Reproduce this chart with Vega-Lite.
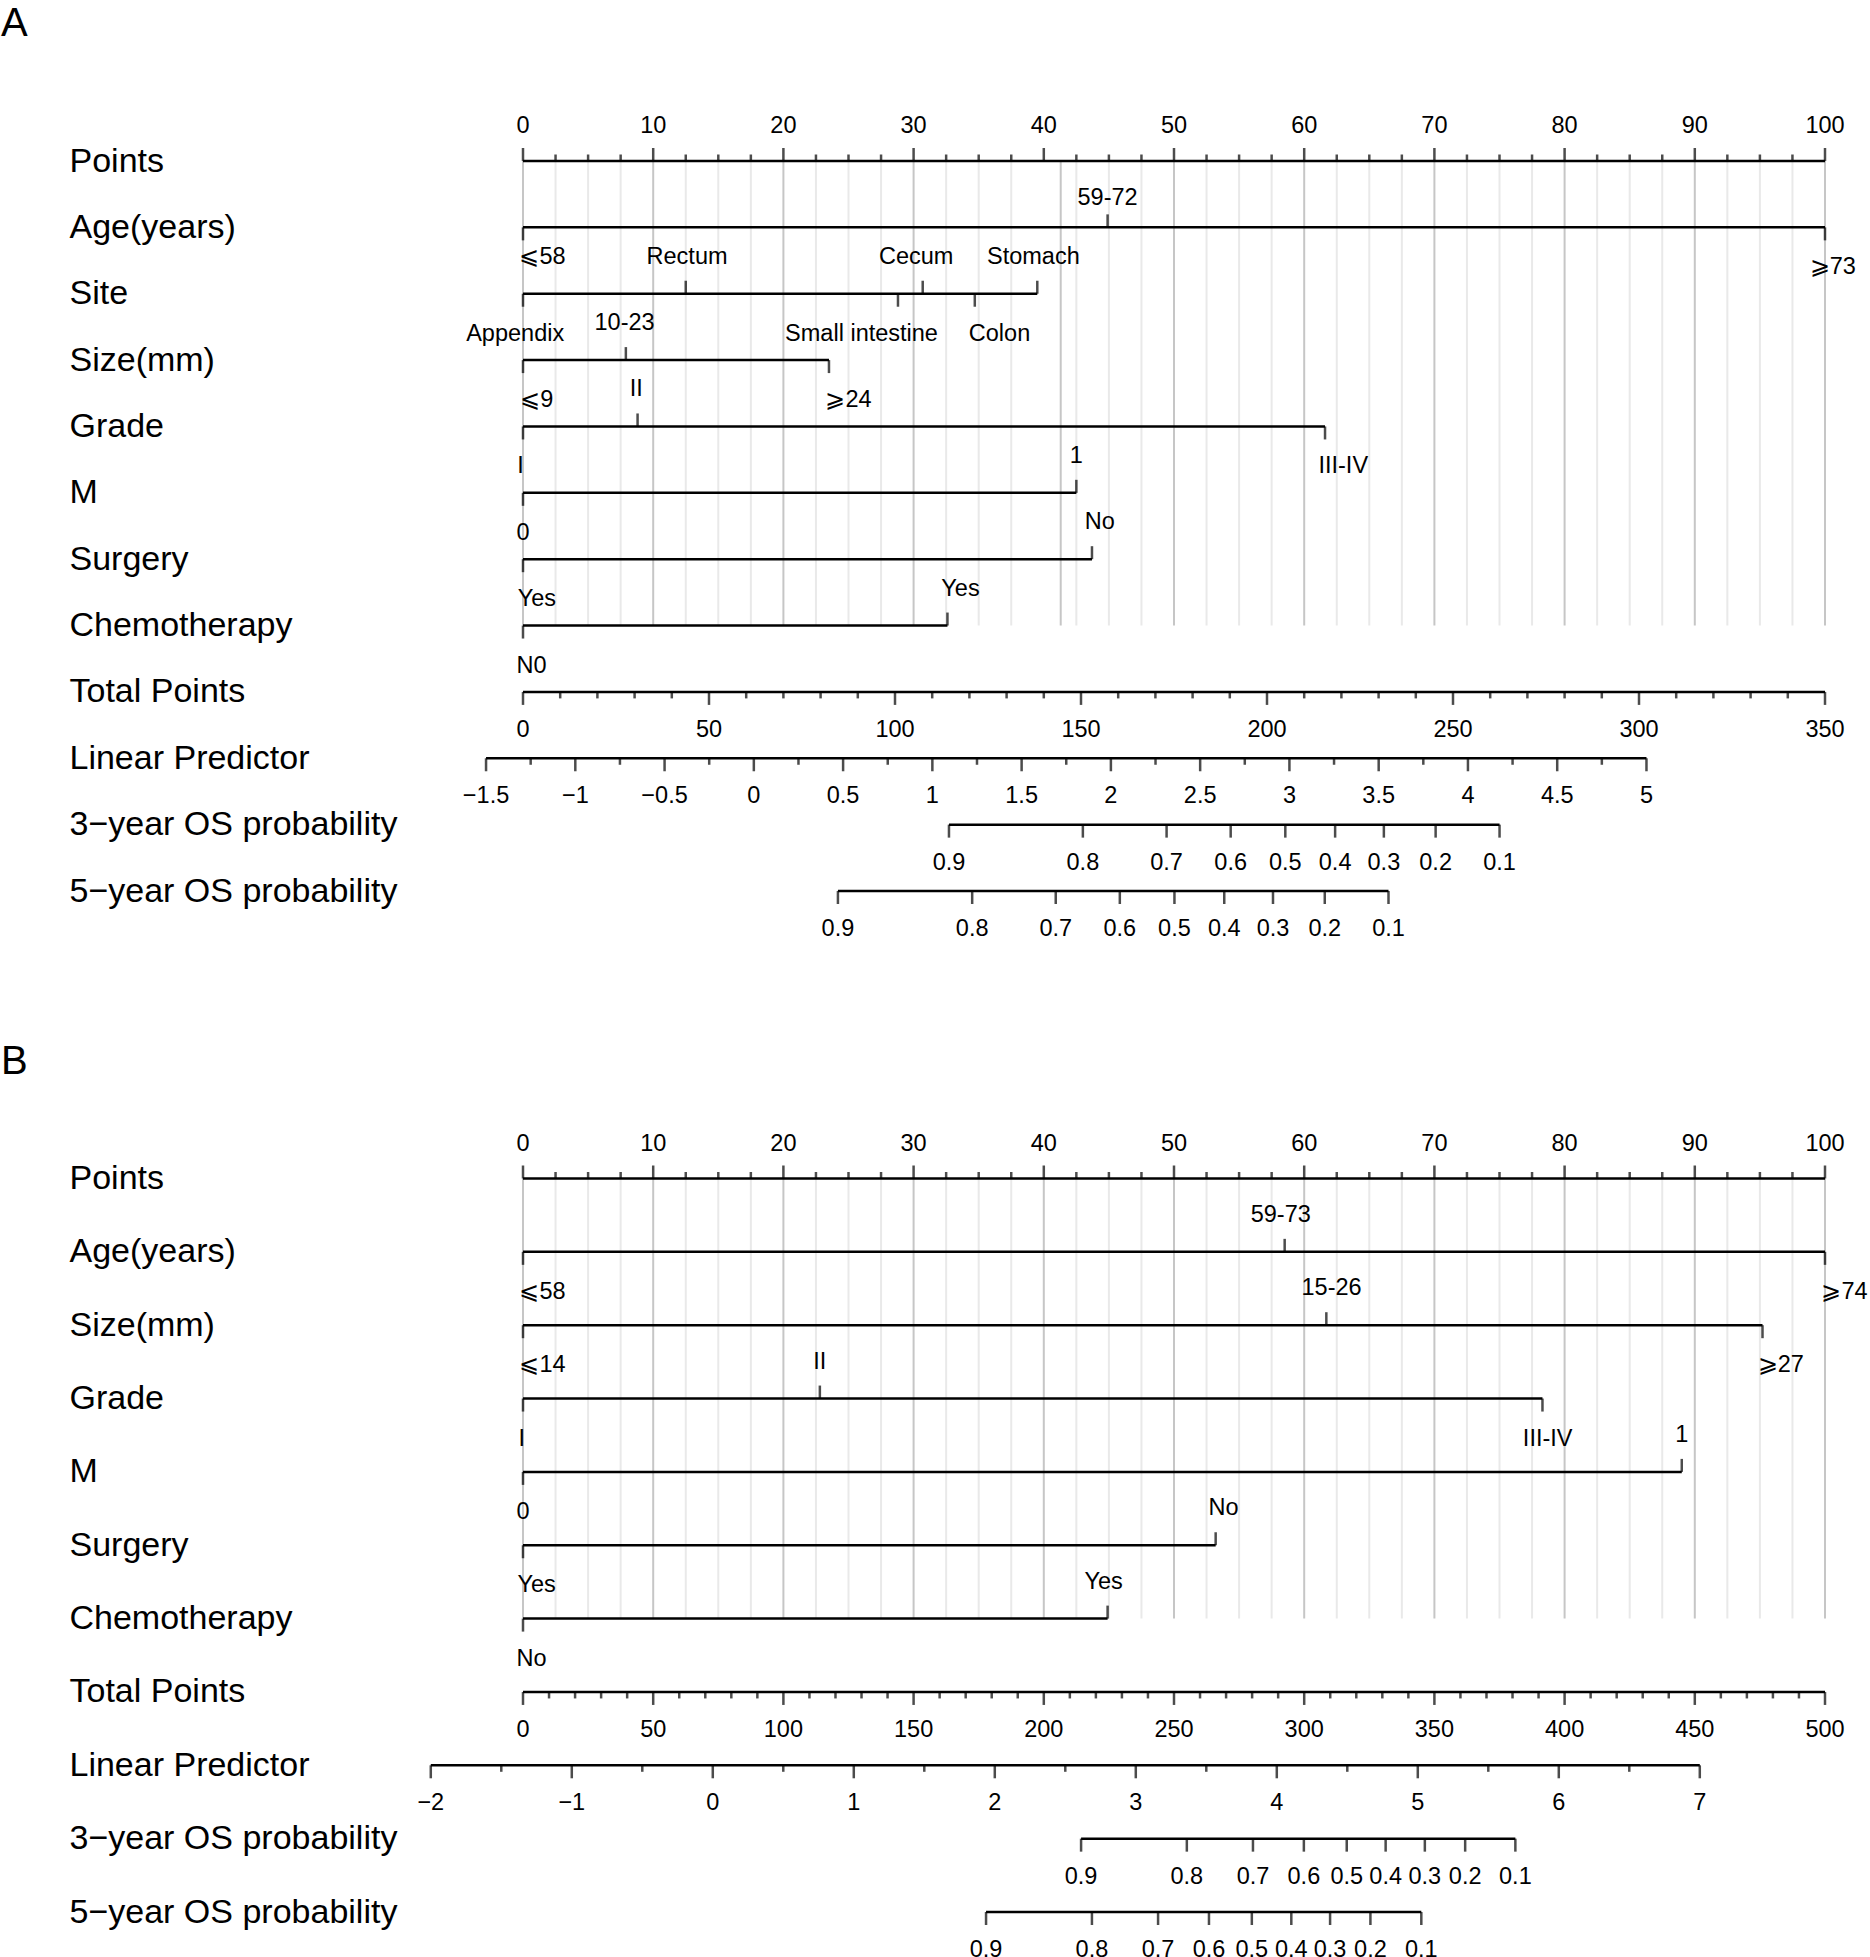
{
"$schema":"https://vega.github.io/schema/vega-lite/v6.json",
"padding":{"left":1,"top":4,"right":0,"bottom":0},
"background":"white",
"config":{"view":{"stroke":null},"text":{"font":"Liberation Sans","fontSize":23.5,"color":"#000"}},
"datasets":{
"pts":[{"row":"Points","v":0,"major":true,"label":"0"},{"row":"Points","v":2.5,"major":false},{"row":"Points","v":5,"major":false},{"row":"Points","v":7.5,"major":false},{"row":"Points","v":10,"major":true,"label":"10"},{"row":"Points","v":12.5,"major":false},{"row":"Points","v":15,"major":false},{"row":"Points","v":17.5,"major":false},{"row":"Points","v":20,"major":true,"label":"20"},{"row":"Points","v":22.5,"major":false},{"row":"Points","v":25,"major":false},{"row":"Points","v":27.5,"major":false},{"row":"Points","v":30,"major":true,"label":"30"},{"row":"Points","v":32.5,"major":false},{"row":"Points","v":35,"major":false},{"row":"Points","v":37.5,"major":false},{"row":"Points","v":40,"major":true,"label":"40"},{"row":"Points","v":42.5,"major":false},{"row":"Points","v":45,"major":false},{"row":"Points","v":47.5,"major":false},{"row":"Points","v":50,"major":true,"label":"50"},{"row":"Points","v":52.5,"major":false},{"row":"Points","v":55,"major":false},{"row":"Points","v":57.5,"major":false},{"row":"Points","v":60,"major":true,"label":"60"},{"row":"Points","v":62.5,"major":false},{"row":"Points","v":65,"major":false},{"row":"Points","v":67.5,"major":false},{"row":"Points","v":70,"major":true,"label":"70"},{"row":"Points","v":72.5,"major":false},{"row":"Points","v":75,"major":false},{"row":"Points","v":77.5,"major":false},{"row":"Points","v":80,"major":true,"label":"80"},{"row":"Points","v":82.5,"major":false},{"row":"Points","v":85,"major":false},{"row":"Points","v":87.5,"major":false},{"row":"Points","v":90,"major":true,"label":"90"},{"row":"Points","v":92.5,"major":false},{"row":"Points","v":95,"major":false},{"row":"Points","v":97.5,"major":false},{"row":"Points","v":100,"major":true,"label":"100"}],
"A_grid":[{"row":"Points","row_end":"Chemotherapy","v":0,"major":true},{"row":"Points","row_end":"Chemotherapy","v":2.5,"major":false},{"row":"Points","row_end":"Chemotherapy","v":5,"major":false},{"row":"Points","row_end":"Chemotherapy","v":7.5,"major":false},{"row":"Points","row_end":"Chemotherapy","v":10,"major":true},{"row":"Points","row_end":"Chemotherapy","v":12.5,"major":false},{"row":"Points","row_end":"Chemotherapy","v":15,"major":false},{"row":"Points","row_end":"Chemotherapy","v":17.5,"major":false},{"row":"Points","row_end":"Chemotherapy","v":20,"major":true},{"row":"Points","row_end":"Chemotherapy","v":22.5,"major":false},{"row":"Points","row_end":"Chemotherapy","v":25,"major":false},{"row":"Points","row_end":"Chemotherapy","v":27.5,"major":false},{"row":"Points","row_end":"Chemotherapy","v":30,"major":true},{"row":"Points","row_end":"Chemotherapy","v":32.5,"major":false},{"row":"Points","row_end":"Chemotherapy","v":35,"major":false},{"row":"Points","row_end":"Chemotherapy","v":37.5,"major":false},{"row":"Points","row_end":"Chemotherapy","v":41.3,"major":true},{"row":"Points","row_end":"Chemotherapy","v":42.5,"major":false},{"row":"Points","row_end":"Chemotherapy","v":45,"major":false},{"row":"Points","row_end":"Chemotherapy","v":47.5,"major":false},{"row":"Points","row_end":"Chemotherapy","v":50,"major":true},{"row":"Points","row_end":"Chemotherapy","v":52.5,"major":false},{"row":"Points","row_end":"Chemotherapy","v":55,"major":false},{"row":"Points","row_end":"Chemotherapy","v":57.5,"major":false},{"row":"Points","row_end":"Chemotherapy","v":60,"major":true},{"row":"Points","row_end":"Chemotherapy","v":62.5,"major":false},{"row":"Points","row_end":"Chemotherapy","v":65,"major":false},{"row":"Points","row_end":"Chemotherapy","v":67.5,"major":false},{"row":"Points","row_end":"Chemotherapy","v":70,"major":true},{"row":"Points","row_end":"Chemotherapy","v":72.5,"major":false},{"row":"Points","row_end":"Chemotherapy","v":75,"major":false},{"row":"Points","row_end":"Chemotherapy","v":77.5,"major":false},{"row":"Points","row_end":"Chemotherapy","v":80,"major":true},{"row":"Points","row_end":"Chemotherapy","v":82.5,"major":false},{"row":"Points","row_end":"Chemotherapy","v":85,"major":false},{"row":"Points","row_end":"Chemotherapy","v":87.5,"major":false},{"row":"Points","row_end":"Chemotherapy","v":90,"major":true},{"row":"Points","row_end":"Chemotherapy","v":92.5,"major":false},{"row":"Points","row_end":"Chemotherapy","v":95,"major":false},{"row":"Points","row_end":"Chemotherapy","v":97.5,"major":false},{"row":"Points","row_end":"Chemotherapy","v":100,"major":true}],
"B_grid":[{"row":"Points","row_end":"Chemotherapy","v":0,"major":true},{"row":"Points","row_end":"Chemotherapy","v":2.5,"major":false},{"row":"Points","row_end":"Chemotherapy","v":5,"major":false},{"row":"Points","row_end":"Chemotherapy","v":7.5,"major":false},{"row":"Points","row_end":"Chemotherapy","v":10,"major":true},{"row":"Points","row_end":"Chemotherapy","v":12.5,"major":false},{"row":"Points","row_end":"Chemotherapy","v":15,"major":false},{"row":"Points","row_end":"Chemotherapy","v":17.5,"major":false},{"row":"Points","row_end":"Chemotherapy","v":20,"major":true},{"row":"Points","row_end":"Chemotherapy","v":22.5,"major":false},{"row":"Points","row_end":"Chemotherapy","v":25,"major":false},{"row":"Points","row_end":"Chemotherapy","v":27.5,"major":false},{"row":"Points","row_end":"Chemotherapy","v":30,"major":true},{"row":"Points","row_end":"Chemotherapy","v":32.5,"major":false},{"row":"Points","row_end":"Chemotherapy","v":35,"major":false},{"row":"Points","row_end":"Chemotherapy","v":37.5,"major":false},{"row":"Points","row_end":"Chemotherapy","v":40,"major":true},{"row":"Points","row_end":"Chemotherapy","v":42.5,"major":false},{"row":"Points","row_end":"Chemotherapy","v":45,"major":false},{"row":"Points","row_end":"Chemotherapy","v":47.5,"major":false},{"row":"Points","row_end":"Chemotherapy","v":50,"major":true},{"row":"Points","row_end":"Chemotherapy","v":52.5,"major":false},{"row":"Points","row_end":"Chemotherapy","v":55,"major":false},{"row":"Points","row_end":"Chemotherapy","v":57.5,"major":false},{"row":"Points","row_end":"Chemotherapy","v":60,"major":true},{"row":"Points","row_end":"Chemotherapy","v":62.5,"major":false},{"row":"Points","row_end":"Chemotherapy","v":65,"major":false},{"row":"Points","row_end":"Chemotherapy","v":67.5,"major":false},{"row":"Points","row_end":"Chemotherapy","v":70,"major":true},{"row":"Points","row_end":"Chemotherapy","v":72.5,"major":false},{"row":"Points","row_end":"Chemotherapy","v":75,"major":false},{"row":"Points","row_end":"Chemotherapy","v":77.5,"major":false},{"row":"Points","row_end":"Chemotherapy","v":80,"major":true},{"row":"Points","row_end":"Chemotherapy","v":82.5,"major":false},{"row":"Points","row_end":"Chemotherapy","v":85,"major":false},{"row":"Points","row_end":"Chemotherapy","v":87.5,"major":false},{"row":"Points","row_end":"Chemotherapy","v":90,"major":true},{"row":"Points","row_end":"Chemotherapy","v":92.5,"major":false},{"row":"Points","row_end":"Chemotherapy","v":95,"major":false},{"row":"Points","row_end":"Chemotherapy","v":97.5,"major":false},{"row":"Points","row_end":"Chemotherapy","v":100,"major":true}],
"A_seg":[{"row":"Points","from":0,"to":100},{"row":"Age(years)","from":0,"to":100},{"row":"Site","from":0,"to":39.5},{"row":"Size(mm)","from":0,"to":23.5},{"row":"Grade","from":0,"to":61.6},{"row":"M","from":0,"to":42.5},{"row":"Surgery","from":0,"to":43.7},{"row":"Chemotherapy","from":0,"to":32.6}],
"B_seg":[{"row":"Points","from":0,"to":100},{"row":"Age(years)","from":0,"to":100},{"row":"Size(mm)","from":0,"to":95.2},{"row":"Grade","from":0,"to":78.3},{"row":"M","from":0,"to":89.0},{"row":"Surgery","from":0,"to":53.2},{"row":"Chemotherapy","from":0,"to":44.9}],
"A_cat":[
{"row":"Age(years)","x":0,"label":"⩽58","lx":1.5,"side":"below_near"},
{"row":"Age(years)","x":44.9,"label":"59-72","lx":44.9,"side":"above_near"},
{"row":"Age(years)","x":100,"label":"⩾73","lx":100.6,"side":"below"},
{"row":"Site","x":0,"label":"Appendix","lx":-0.6,"side":"below"},
{"row":"Site","x":12.5,"label":"Rectum","lx":12.6,"side":"above"},
{"row":"Site","x":28.8,"label":"Small intestine","lx":26.0,"side":"below"},
{"row":"Site","x":30.7,"label":"Cecum","lx":30.2,"side":"above"},
{"row":"Site","x":34.7,"label":"Colon","lx":36.6,"side":"below"},
{"row":"Site","x":39.5,"label":"Stomach","lx":39.2,"side":"above"},
{"row":"Size(mm)","x":0,"label":"⩽9","lx":1.05,"side":"below"},
{"row":"Size(mm)","x":7.9,"label":"10-23","lx":7.8,"side":"above"},
{"row":"Size(mm)","x":23.5,"label":"⩾24","lx":25.0,"side":"below"},
{"row":"Grade","x":0,"label":"I","lx":-0.2,"side":"below"},
{"row":"Grade","x":8.8,"label":"II","lx":8.7,"side":"above"},
{"row":"Grade","x":61.6,"label":"III-IV","lx":63.0,"side":"below"},
{"row":"M","x":0,"label":"0","lx":0,"side":"below"},
{"row":"M","x":42.5,"label":"1","lx":42.5,"side":"above"},
{"row":"Surgery","x":0,"label":"Yes","lx":1.06,"side":"below"},
{"row":"Surgery","x":43.7,"label":"No","lx":44.3,"side":"above"},
{"row":"Chemotherapy","x":0,"label":"N0","lx":0.66,"side":"below"},
{"row":"Chemotherapy","x":32.6,"label":"Yes","lx":33.6,"side":"above"}],
"B_cat":[
{"row":"Age(years)","x":0,"label":"⩽58","lx":1.5,"side":"below"},
{"row":"Age(years)","x":58.5,"label":"59-73","lx":58.2,"side":"above"},
{"row":"Age(years)","x":100,"label":"⩾74","lx":101.5,"side":"below"},
{"row":"Size(mm)","x":0,"label":"⩽14","lx":1.5,"side":"below"},
{"row":"Size(mm)","x":61.7,"label":"15-26","lx":62.1,"side":"above"},
{"row":"Size(mm)","x":95.2,"label":"⩾27","lx":96.6,"side":"below"},
{"row":"Grade","x":0,"label":"I","lx":-0.1,"side":"below"},
{"row":"Grade","x":22.8,"label":"II","lx":22.8,"side":"above"},
{"row":"Grade","x":78.3,"label":"III-IV","lx":78.7,"side":"below"},
{"row":"M","x":0,"label":"0","lx":0,"side":"below"},
{"row":"M","x":89.0,"label":"1","lx":89.0,"side":"above"},
{"row":"Surgery","x":0,"label":"Yes","lx":1.05,"side":"below"},
{"row":"Surgery","x":53.2,"label":"No","lx":53.8,"side":"above"},
{"row":"Chemotherapy","x":0,"label":"No","lx":0.66,"side":"below"},
{"row":"Chemotherapy","x":44.9,"label":"Yes","lx":44.6,"side":"above"}],
"A_tot":[{"row":"Total Points","v":0,"major":true,"label":"0"},{"row":"Total Points","v":10,"major":false},{"row":"Total Points","v":20,"major":false},{"row":"Total Points","v":30,"major":false},{"row":"Total Points","v":40,"major":false},{"row":"Total Points","v":50,"major":true,"label":"50"},{"row":"Total Points","v":60,"major":false},{"row":"Total Points","v":70,"major":false},{"row":"Total Points","v":80,"major":false},{"row":"Total Points","v":90,"major":false},{"row":"Total Points","v":100,"major":true,"label":"100"},{"row":"Total Points","v":110,"major":false},{"row":"Total Points","v":120,"major":false},{"row":"Total Points","v":130,"major":false},{"row":"Total Points","v":140,"major":false},{"row":"Total Points","v":150,"major":true,"label":"150"},{"row":"Total Points","v":160,"major":false},{"row":"Total Points","v":170,"major":false},{"row":"Total Points","v":180,"major":false},{"row":"Total Points","v":190,"major":false},{"row":"Total Points","v":200,"major":true,"label":"200"},{"row":"Total Points","v":210,"major":false},{"row":"Total Points","v":220,"major":false},{"row":"Total Points","v":230,"major":false},{"row":"Total Points","v":240,"major":false},{"row":"Total Points","v":250,"major":true,"label":"250"},{"row":"Total Points","v":260,"major":false},{"row":"Total Points","v":270,"major":false},{"row":"Total Points","v":280,"major":false},{"row":"Total Points","v":290,"major":false},{"row":"Total Points","v":300,"major":true,"label":"300"},{"row":"Total Points","v":310,"major":false},{"row":"Total Points","v":320,"major":false},{"row":"Total Points","v":330,"major":false},{"row":"Total Points","v":340,"major":false},{"row":"Total Points","v":350,"major":true,"label":"350"}],
"B_tot":[{"row":"Total Points","v":0,"major":true,"label":"0"},{"row":"Total Points","v":10,"major":false},{"row":"Total Points","v":20,"major":false},{"row":"Total Points","v":30,"major":false},{"row":"Total Points","v":40,"major":false},{"row":"Total Points","v":50,"major":true,"label":"50"},{"row":"Total Points","v":60,"major":false},{"row":"Total Points","v":70,"major":false},{"row":"Total Points","v":80,"major":false},{"row":"Total Points","v":90,"major":false},{"row":"Total Points","v":100,"major":true,"label":"100"},{"row":"Total Points","v":110,"major":false},{"row":"Total Points","v":120,"major":false},{"row":"Total Points","v":130,"major":false},{"row":"Total Points","v":140,"major":false},{"row":"Total Points","v":150,"major":true,"label":"150"},{"row":"Total Points","v":160,"major":false},{"row":"Total Points","v":170,"major":false},{"row":"Total Points","v":180,"major":false},{"row":"Total Points","v":190,"major":false},{"row":"Total Points","v":200,"major":true,"label":"200"},{"row":"Total Points","v":210,"major":false},{"row":"Total Points","v":220,"major":false},{"row":"Total Points","v":230,"major":false},{"row":"Total Points","v":240,"major":false},{"row":"Total Points","v":250,"major":true,"label":"250"},{"row":"Total Points","v":260,"major":false},{"row":"Total Points","v":270,"major":false},{"row":"Total Points","v":280,"major":false},{"row":"Total Points","v":290,"major":false},{"row":"Total Points","v":300,"major":true,"label":"300"},{"row":"Total Points","v":310,"major":false},{"row":"Total Points","v":320,"major":false},{"row":"Total Points","v":330,"major":false},{"row":"Total Points","v":340,"major":false},{"row":"Total Points","v":350,"major":true,"label":"350"},{"row":"Total Points","v":360,"major":false},{"row":"Total Points","v":370,"major":false},{"row":"Total Points","v":380,"major":false},{"row":"Total Points","v":390,"major":false},{"row":"Total Points","v":400,"major":true,"label":"400"},{"row":"Total Points","v":410,"major":false},{"row":"Total Points","v":420,"major":false},{"row":"Total Points","v":430,"major":false},{"row":"Total Points","v":440,"major":false},{"row":"Total Points","v":450,"major":true,"label":"450"},{"row":"Total Points","v":460,"major":false},{"row":"Total Points","v":470,"major":false},{"row":"Total Points","v":480,"major":false},{"row":"Total Points","v":490,"major":false},{"row":"Total Points","v":500,"major":true,"label":"500"}],
"A_lp":[{"row":"Linear Predictor","v":-1.5,"major":true,"label":"−1.5"},{"row":"Linear Predictor","v":-1.25,"major":false},{"row":"Linear Predictor","v":-1,"major":true,"label":"−1"},{"row":"Linear Predictor","v":-0.75,"major":false},{"row":"Linear Predictor","v":-0.5,"major":true,"label":"−0.5"},{"row":"Linear Predictor","v":-0.25,"major":false},{"row":"Linear Predictor","v":0,"major":true,"label":"0"},{"row":"Linear Predictor","v":0.25,"major":false},{"row":"Linear Predictor","v":0.5,"major":true,"label":"0.5"},{"row":"Linear Predictor","v":0.75,"major":false},{"row":"Linear Predictor","v":1,"major":true,"label":"1"},{"row":"Linear Predictor","v":1.25,"major":false},{"row":"Linear Predictor","v":1.5,"major":true,"label":"1.5"},{"row":"Linear Predictor","v":1.75,"major":false},{"row":"Linear Predictor","v":2,"major":true,"label":"2"},{"row":"Linear Predictor","v":2.25,"major":false},{"row":"Linear Predictor","v":2.5,"major":true,"label":"2.5"},{"row":"Linear Predictor","v":2.75,"major":false},{"row":"Linear Predictor","v":3,"major":true,"label":"3"},{"row":"Linear Predictor","v":3.25,"major":false},{"row":"Linear Predictor","v":3.5,"major":true,"label":"3.5"},{"row":"Linear Predictor","v":3.75,"major":false},{"row":"Linear Predictor","v":4,"major":true,"label":"4"},{"row":"Linear Predictor","v":4.25,"major":false},{"row":"Linear Predictor","v":4.5,"major":true,"label":"4.5"},{"row":"Linear Predictor","v":4.75,"major":false},{"row":"Linear Predictor","v":5,"major":true,"label":"5"}],
"B_lp":[{"row":"Linear Predictor","v":-2,"major":true,"label":"−2"},{"row":"Linear Predictor","v":-1.5,"major":false},{"row":"Linear Predictor","v":-1,"major":true,"label":"−1"},{"row":"Linear Predictor","v":-0.5,"major":false},{"row":"Linear Predictor","v":0,"major":true,"label":"0"},{"row":"Linear Predictor","v":0.5,"major":false},{"row":"Linear Predictor","v":1,"major":true,"label":"1"},{"row":"Linear Predictor","v":1.5,"major":false},{"row":"Linear Predictor","v":2,"major":true,"label":"2"},{"row":"Linear Predictor","v":2.5,"major":false},{"row":"Linear Predictor","v":3,"major":true,"label":"3"},{"row":"Linear Predictor","v":3.5,"major":false},{"row":"Linear Predictor","v":4,"major":true,"label":"4"},{"row":"Linear Predictor","v":4.5,"major":false},{"row":"Linear Predictor","v":5,"major":true,"label":"5"},{"row":"Linear Predictor","v":5.5,"major":false},{"row":"Linear Predictor","v":6,"major":true,"label":"6"},{"row":"Linear Predictor","v":6.5,"major":false},{"row":"Linear Predictor","v":7,"major":true,"label":"7"}],
"A_lpseg":[{"row":"Linear Predictor","from":-1.5,"to":5},{"row":"3−year OS probability","from":1.093,"to":4.177},{"row":"5−year OS probability","from":0.471,"to":3.555}],
"B_lpseg":[{"row":"Linear Predictor","from":-2,"to":7},{"row":"3−year OS probability","from":2.612,"to":5.692},{"row":"5−year OS probability","from":1.938,"to":5.025}],
"A_prob":[{"row":"3−year OS probability","v":1.093,"label":"0.9"},{"row":"3−year OS probability","v":1.843,"label":"0.8"},{"row":"3−year OS probability","v":2.312,"label":"0.7"},{"row":"3−year OS probability","v":2.671,"label":"0.6"},{"row":"3−year OS probability","v":2.977,"label":"0.5"},{"row":"3−year OS probability","v":3.256,"label":"0.4"},{"row":"3−year OS probability","v":3.529,"label":"0.3"},{"row":"3−year OS probability","v":3.819,"label":"0.2"},{"row":"3−year OS probability","v":4.177,"label":"0.1"},{"row":"5−year OS probability","v":0.471,"label":"0.9"},{"row":"5−year OS probability","v":1.223,"label":"0.8"},{"row":"5−year OS probability","v":1.691,"label":"0.7"},{"row":"5−year OS probability","v":2.05,"label":"0.6"},{"row":"5−year OS probability","v":2.356,"label":"0.5"},{"row":"5−year OS probability","v":2.635,"label":"0.4"},{"row":"5−year OS probability","v":2.908,"label":"0.3"},{"row":"5−year OS probability","v":3.198,"label":"0.2"},{"row":"5−year OS probability","v":3.555,"label":"0.1"}],
"B_prob":[{"row":"3−year OS probability","v":2.612,"label":"0.9"},{"row":"3−year OS probability","v":3.362,"label":"0.8"},{"row":"3−year OS probability","v":3.831,"label":"0.7"},{"row":"3−year OS probability","v":4.192,"label":"0.6"},{"row":"3−year OS probability","v":4.496,"label":"0.5"},{"row":"3−year OS probability","v":4.772,"label":"0.4"},{"row":"3−year OS probability","v":5.05,"label":"0.3"},{"row":"3−year OS probability","v":5.336,"label":"0.2"},{"row":"3−year OS probability","v":5.692,"label":"0.1"},{"row":"5−year OS probability","v":1.938,"label":"0.9"},{"row":"5−year OS probability","v":2.689,"label":"0.8"},{"row":"5−year OS probability","v":3.158,"label":"0.7"},{"row":"5−year OS probability","v":3.519,"label":"0.6"},{"row":"5−year OS probability","v":3.823,"label":"0.5"},{"row":"5−year OS probability","v":4.103,"label":"0.4"},{"row":"5−year OS probability","v":4.378,"label":"0.3"},{"row":"5−year OS probability","v":4.664,"label":"0.2"},{"row":"5−year OS probability","v":5.025,"label":"0.1"}]
},
"vconcat":[
{
"title":{"text":"A","anchor":"start","frame":"group","dx":-522,"offset":38,"fontSize":40,"fontWeight":"normal","font":"Liberation Sans","color":"#000","baseline":"alphabetic"},
"width":1302,"height":730,
"encoding":{"y":{"field":"row","type":"nominal","scale":{"type":"point","padding":0,"domain":["Points","Age(years)","Site","Size(mm)","Grade","M","Surgery","Chemotherapy","Total Points","Linear Predictor","3−year OS probability","5−year OS probability"]},"axis":{"title":null,"domain":false,"ticks":false,"tickSize":0,"grid":false,"labelAlign":"left","labelBaseline":"middle","labelPadding":454,"labelFontSize":34,"labelFont":"Liberation Sans","labelColor":"#000","labelLimit":1000,"labelOverlap":false}}},
"resolve":{"scale":{"x":"independent"}},
"layer":[
{"layer":[
{"data":{"name":"A_grid"},"mark":{"type":"rule","strokeWidth":2},"encoding":{"x":{"field":"v","type":"quantitative","scale":{"domain":[0,100],"nice":false,"zero":false},"axis":null},"y2":{"field":"row_end"},"color":{"condition":{"test":"datum.major","value":"#c6c6c6"},"value":"#e9e9e9"}}},
{"data":{"name":"A_seg"},"mark":{"type":"rule","strokeWidth":2.5,"color":"#000"},"encoding":{"x":{"field":"from","type":"quantitative","scale":{"domain":[0,100],"nice":false,"zero":false},"axis":null},"x2":{"field":"to"}}},
{"data":{"name":"pts"},"transform":[{"filter":"datum.major"}],"mark":{"type":"tick","orient":"vertical","size":13,"thickness":2.5,"yOffset":-6.5,"color":"#000"},"encoding":{"x":{"field":"v","type":"quantitative","axis":null}}},
{"data":{"name":"pts"},"transform":[{"filter":"!datum.major"}],"mark":{"type":"tick","orient":"vertical","size":6.5,"thickness":2.5,"yOffset":-3.25,"color":"#000"},"encoding":{"x":{"field":"v","type":"quantitative","axis":null}}},
{"data":{"name":"pts"},"transform":[{"filter":"datum.major"}],"mark":{"type":"text","dy":-35},"encoding":{"x":{"field":"v","type":"quantitative","axis":null},"text":{"field":"label"}}},
{"data":{"name":"A_cat"},"transform":[{"filter":"indexof(datum.side,'above')==0"}],"mark":{"type":"tick","orient":"vertical","size":13,"thickness":2.5,"yOffset":-6.5,"color":"#000"},"encoding":{"x":{"field":"x","type":"quantitative","axis":null}}},
{"data":{"name":"A_cat"},"transform":[{"filter":"indexof(datum.side,'below')==0"}],"mark":{"type":"tick","orient":"vertical","size":13,"thickness":2.5,"yOffset":6.5,"color":"#000"},"encoding":{"x":{"field":"x","type":"quantitative","axis":null}}},
{"data":{"name":"A_cat"},"transform":[{"filter":"datum.side=='above'"}],"mark":{"type":"text","dy":-37},"encoding":{"x":{"field":"lx","type":"quantitative","axis":null},"text":{"field":"label"}}},
{"data":{"name":"A_cat"},"transform":[{"filter":"datum.side=='above_near'"}],"mark":{"type":"text","dy":-29},"encoding":{"x":{"field":"lx","type":"quantitative","axis":null},"text":{"field":"label"}}},
{"data":{"name":"A_cat"},"transform":[{"filter":"datum.side=='below'"}],"mark":{"type":"text","dy":40},"encoding":{"x":{"field":"lx","type":"quantitative","axis":null},"text":{"field":"label"}}},
{"data":{"name":"A_cat"},"transform":[{"filter":"datum.side=='below_near'"}],"mark":{"type":"text","dy":30},"encoding":{"x":{"field":"lx","type":"quantitative","axis":null},"text":{"field":"label"}}}
]},
{"layer":[
{"data":{"values":[{"row":"Total Points","from":0,"to":350}]},"mark":{"type":"rule","strokeWidth":2.5,"color":"#000"},"encoding":{"x":{"field":"from","type":"quantitative","scale":{"domain":[0,350],"nice":false,"zero":false},"axis":null},"x2":{"field":"to"}}},
{"data":{"name":"A_tot"},"transform":[{"filter":"datum.major"}],"mark":{"type":"tick","orient":"vertical","size":13,"thickness":2.5,"yOffset":6.5,"color":"#000"},"encoding":{"x":{"field":"v","type":"quantitative","axis":null}}},
{"data":{"name":"A_tot"},"transform":[{"filter":"!datum.major"}],"mark":{"type":"tick","orient":"vertical","size":6.5,"thickness":2.5,"yOffset":3.25,"color":"#000"},"encoding":{"x":{"field":"v","type":"quantitative","axis":null}}},
{"data":{"name":"A_tot"},"transform":[{"filter":"datum.major"}],"mark":{"type":"text","dy":38},"encoding":{"x":{"field":"v","type":"quantitative","axis":null},"text":{"field":"label"}}}
]},
{"layer":[
{"data":{"name":"A_lpseg"},"mark":{"type":"rule","strokeWidth":2.5,"color":"#000"},"encoding":{"x":{"field":"from","type":"quantitative","scale":{"domain":[-1.293,6.0],"nice":false,"zero":false},"axis":null},"x2":{"field":"to"}}},
{"data":{"name":"A_lp"},"transform":[{"filter":"datum.major"}],"mark":{"type":"tick","orient":"vertical","size":13,"thickness":2.5,"yOffset":6.5,"color":"#000"},"encoding":{"x":{"field":"v","type":"quantitative","axis":null}}},
{"data":{"name":"A_lp"},"transform":[{"filter":"!datum.major"}],"mark":{"type":"tick","orient":"vertical","size":6.5,"thickness":2.5,"yOffset":3.25,"color":"#000"},"encoding":{"x":{"field":"v","type":"quantitative","axis":null}}},
{"data":{"name":"A_lp"},"transform":[{"filter":"datum.major"}],"mark":{"type":"text","dy":38},"encoding":{"x":{"field":"v","type":"quantitative","axis":null},"text":{"field":"label"}}},
{"data":{"name":"A_prob"},"mark":{"type":"tick","orient":"vertical","size":13,"thickness":2.5,"yOffset":6.5,"color":"#000"},"encoding":{"x":{"field":"v","type":"quantitative","axis":null}}},
{"data":{"name":"A_prob"},"mark":{"type":"text","dy":38},"encoding":{"x":{"field":"v","type":"quantitative","axis":null},"text":{"field":"label"}}}
]}
]
},
{
"title":{"text":"B","anchor":"start","frame":"group","dx":-522,"offset":18,"fontSize":40,"fontWeight":"normal","font":"Liberation Sans","color":"#000","baseline":"alphabetic"},
"width":1302,"height":733.5,
"encoding":{"y":{"field":"row","type":"nominal","scale":{"type":"point","padding":0,"domain":["Points","Age(years)","Size(mm)","Grade","M","Surgery","Chemotherapy","Total Points","Linear Predictor","3−year OS probability","5−year OS probability"]},"axis":{"title":null,"domain":false,"ticks":false,"tickSize":0,"grid":false,"labelAlign":"left","labelBaseline":"middle","labelPadding":454,"labelFontSize":34,"labelFont":"Liberation Sans","labelColor":"#000","labelLimit":1000,"labelOverlap":false}}},
"resolve":{"scale":{"x":"independent"}},
"layer":[
{"layer":[
{"data":{"name":"B_grid"},"mark":{"type":"rule","strokeWidth":2},"encoding":{"x":{"field":"v","type":"quantitative","scale":{"domain":[0,100],"nice":false,"zero":false},"axis":null},"y2":{"field":"row_end"},"color":{"condition":{"test":"datum.major","value":"#c6c6c6"},"value":"#e9e9e9"}}},
{"data":{"name":"B_seg"},"mark":{"type":"rule","strokeWidth":2.5,"color":"#000"},"encoding":{"x":{"field":"from","type":"quantitative","scale":{"domain":[0,100],"nice":false,"zero":false},"axis":null},"x2":{"field":"to"}}},
{"data":{"name":"pts"},"transform":[{"filter":"datum.major"}],"mark":{"type":"tick","orient":"vertical","size":13,"thickness":2.5,"yOffset":-6.5,"color":"#000"},"encoding":{"x":{"field":"v","type":"quantitative","axis":null}}},
{"data":{"name":"pts"},"transform":[{"filter":"!datum.major"}],"mark":{"type":"tick","orient":"vertical","size":6.5,"thickness":2.5,"yOffset":-3.25,"color":"#000"},"encoding":{"x":{"field":"v","type":"quantitative","axis":null}}},
{"data":{"name":"pts"},"transform":[{"filter":"datum.major"}],"mark":{"type":"text","dy":-35},"encoding":{"x":{"field":"v","type":"quantitative","axis":null},"text":{"field":"label"}}},
{"data":{"name":"B_cat"},"transform":[{"filter":"indexof(datum.side,'above')==0"}],"mark":{"type":"tick","orient":"vertical","size":13,"thickness":2.5,"yOffset":-6.5,"color":"#000"},"encoding":{"x":{"field":"x","type":"quantitative","axis":null}}},
{"data":{"name":"B_cat"},"transform":[{"filter":"indexof(datum.side,'below')==0"}],"mark":{"type":"tick","orient":"vertical","size":13,"thickness":2.5,"yOffset":6.5,"color":"#000"},"encoding":{"x":{"field":"x","type":"quantitative","axis":null}}},
{"data":{"name":"B_cat"},"transform":[{"filter":"datum.side=='above'"}],"mark":{"type":"text","dy":-37},"encoding":{"x":{"field":"lx","type":"quantitative","axis":null},"text":{"field":"label"}}},
{"data":{"name":"B_cat"},"transform":[{"filter":"datum.side=='below'"}],"mark":{"type":"text","dy":40},"encoding":{"x":{"field":"lx","type":"quantitative","axis":null},"text":{"field":"label"}}}
]},
{"layer":[
{"data":{"values":[{"row":"Total Points","from":0,"to":500}]},"mark":{"type":"rule","strokeWidth":2.5,"color":"#000"},"encoding":{"x":{"field":"from","type":"quantitative","scale":{"domain":[0,500],"nice":false,"zero":false},"axis":null},"x2":{"field":"to"}}},
{"data":{"name":"B_tot"},"transform":[{"filter":"datum.major"}],"mark":{"type":"tick","orient":"vertical","size":13,"thickness":2.5,"yOffset":6.5,"color":"#000"},"encoding":{"x":{"field":"v","type":"quantitative","axis":null}}},
{"data":{"name":"B_tot"},"transform":[{"filter":"!datum.major"}],"mark":{"type":"tick","orient":"vertical","size":6.5,"thickness":2.5,"yOffset":3.25,"color":"#000"},"encoding":{"x":{"field":"v","type":"quantitative","axis":null}}},
{"data":{"name":"B_tot"},"transform":[{"filter":"datum.major"}],"mark":{"type":"text","dy":38},"encoding":{"x":{"field":"v","type":"quantitative","axis":null},"text":{"field":"label"}}}
]},
{"layer":[
{"data":{"name":"B_lpseg"},"mark":{"type":"rule","strokeWidth":2.5,"color":"#000"},"encoding":{"x":{"field":"from","type":"quantitative","scale":{"domain":[-1.346,7.888],"nice":false,"zero":false},"axis":null},"x2":{"field":"to"}}},
{"data":{"name":"B_lp"},"transform":[{"filter":"datum.major"}],"mark":{"type":"tick","orient":"vertical","size":13,"thickness":2.5,"yOffset":6.5,"color":"#000"},"encoding":{"x":{"field":"v","type":"quantitative","axis":null}}},
{"data":{"name":"B_lp"},"transform":[{"filter":"!datum.major"}],"mark":{"type":"tick","orient":"vertical","size":6.5,"thickness":2.5,"yOffset":3.25,"color":"#000"},"encoding":{"x":{"field":"v","type":"quantitative","axis":null}}},
{"data":{"name":"B_lp"},"transform":[{"filter":"datum.major"}],"mark":{"type":"text","dy":38},"encoding":{"x":{"field":"v","type":"quantitative","axis":null},"text":{"field":"label"}}},
{"data":{"name":"B_prob"},"mark":{"type":"tick","orient":"vertical","size":13,"thickness":2.5,"yOffset":6.5,"color":"#000"},"encoding":{"x":{"field":"v","type":"quantitative","axis":null}}},
{"data":{"name":"B_prob"},"mark":{"type":"text","dy":38},"encoding":{"x":{"field":"v","type":"quantitative","axis":null},"text":{"field":"label"}}}
]}
]
}
],
"spacing":287.5,
"bounds":"flush"
}
